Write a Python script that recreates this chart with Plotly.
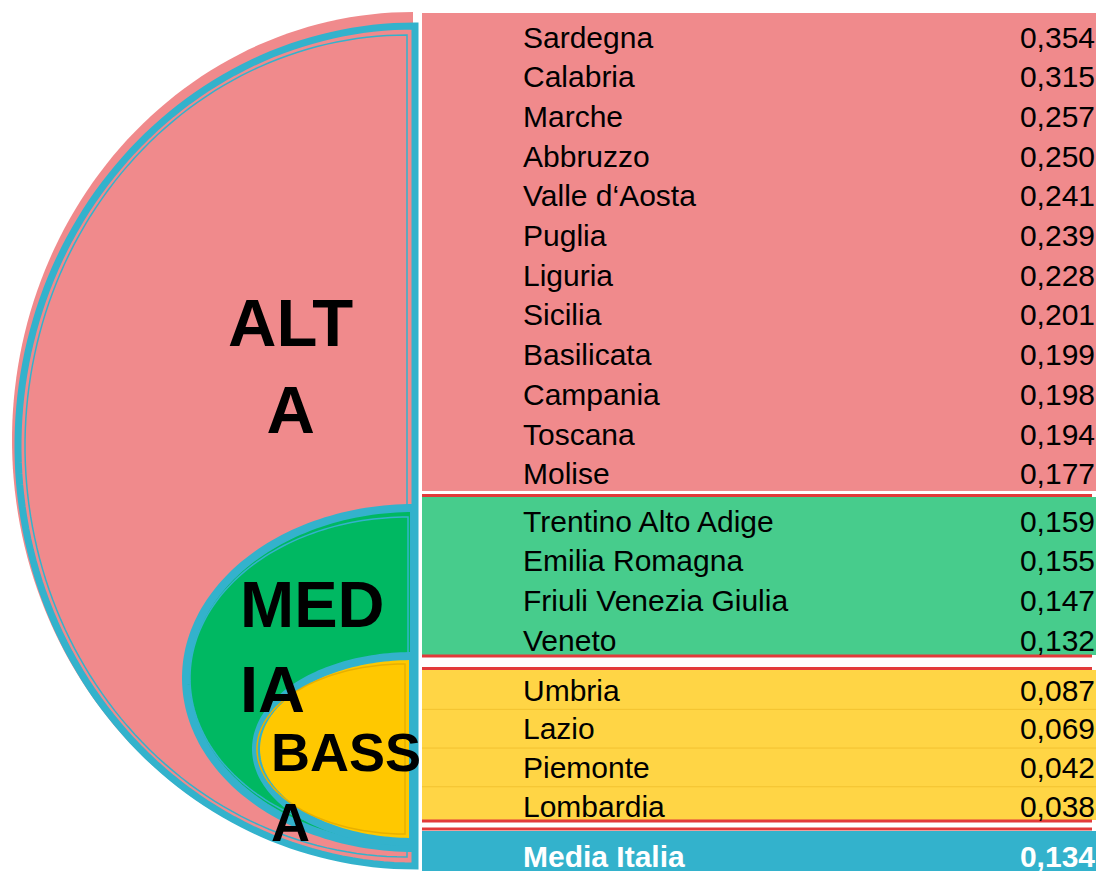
import numpy as np
import plotly.graph_objects as go

# ---------------- data ----------------
alta_regions = ["Sardegna", "Calabria", "Marche", "Abbruzzo", "Valle d‘Aosta", "Puglia",
                "Liguria", "Sicilia", "Basilicata", "Campania", "Toscana", "Molise"]
alta_values = [0.354, 0.315, 0.257, 0.250, 0.241, 0.239, 0.228, 0.201, 0.199, 0.198, 0.194, 0.177]

media_regions = ["Trentino Alto Adige", "Emilia Romagna", "Friuli Venezia Giulia", "Veneto"]
media_values = [0.159, 0.155, 0.147, 0.132]

bassa_regions = ["Umbria", "Lazio", "Piemonte", "Lombardia"]
bassa_values = [0.087, 0.069, 0.042, 0.038]

italia_label = "Media Italia"
italia_value = 0.134

group_labels = ["ALT<br>A", "MED<br>IA", "BASS<br>A"]

# ---------------- styles / geometry ----------------
W, H = 1100, 871
PINK = "#F08A8C"
GREEN_T = "#47CC8C"
GREEN_S = "#00B862"
YELLOW_T = "#FFD545"
YELLOW_S = "#FFC800"
BLUE = "#33B2CC"
RED = "#E23A3A"
FONT = "Liberation Sans, Arial, sans-serif"
TXT = 30

TX0, TX1 = 422, 1096      # table horizontal extent
NAME_X, VAL_X = 523, 1095

def fmt(v):
    return f"{v:.3f}".replace(".", ",")

def half_ellipse(cx, cy, rx, ry, xr, n=120):
    t = np.linspace(-np.pi / 2, np.pi / 2, n)
    xs = cx - rx * np.cos(t)
    ys = cy + ry * np.sin(t)
    pts = [(xr, ys[0])] + list(zip(xs, ys)) + [(xr, ys[-1])]
    return "M " + " L ".join(f"{x:.2f},{y:.2f}" for x, y in pts) + " Z"

shapes = []

def add_path(path, fill=None, line_color=None, line_width=0):
    shapes.append(dict(type="path", path=path, xref="x", yref="y", layer="below",
                       fillcolor=fill if fill else "rgba(0,0,0,0)",
                       line=dict(color=line_color if line_color else "rgba(0,0,0,0)",
                                 width=line_width)))

def add_rect(x0, y0, x1, y1, fill):
    shapes.append(dict(type="rect", x0=x0, y0=y0, x1=x1, y1=y1, xref="x", yref="y",
                       layer="below", fillcolor=fill, line=dict(width=0)))

def add_line(x0, y0, x1, y1, color, width):
    shapes.append(dict(type="line", x0=x0, y0=y0, x1=x1, y1=y1, xref="x", yref="y",
                       layer="below", line=dict(color=color, width=width)))

# ---- left nested half-ellipses ----
# ALTA
add_path(half_ellipse(413, 440, 401, 428, 413), fill=PINK)
add_path(half_ellipse(415, 446, 397, 420, 415), line_color=BLUE, line_width=7)
add_path(half_ellipse(407, 446, 382, 411, 407), line_color=BLUE, line_width=1.5)
# MEDIA
add_path(half_ellipse(414, 678, 228, 170, 414), fill=GREEN_S, line_color=BLUE, line_width=8)
add_path(half_ellipse(408, 678, 218, 161, 408), line_color=BLUE, line_width=1.5)
# BASSA
add_path(half_ellipse(413, 749, 157, 93, 413), fill=YELLOW_S, line_color=BLUE, line_width=8)
add_path(half_ellipse(405, 749, 148, 85, 405), line_color="#E8B000", line_width=1.5)

# ---- table blocks ----
blocks = [
    dict(names=alta_regions, vals=alta_values, top=13, bottom=491, first=40, step=39.7,
         fill=PINK, red_top=False, red_bottom=False, sep=None),
    dict(names=media_regions, vals=media_values, top=497, bottom=655, first=524, step=39.7,
         fill=GREEN_T, red_top=True, red_bottom=True, sep=None),
    dict(names=bassa_regions, vals=bassa_values, top=670, bottom=820, first=693, step=38.7,
         fill=YELLOW_T, red_top=True, red_bottom=True, sep="#F2C230"),
]

name_x, name_y, name_t = [], [], []
val_x, val_y, val_t = [], [], []
for b in blocks:
    add_rect(TX0, b["top"], TX1, b["bottom"], b["fill"])
    if b["red_top"]:
        add_line(TX0, b["top"] - 1.5, 1092, b["top"] - 1.5, RED, 3)
    if b["red_bottom"]:
        add_line(TX0, b["bottom"] + 1, 1092, b["bottom"] + 1, RED, 3)
    for i, (nm, v) in enumerate(zip(b["names"], b["vals"])):
        y = b["first"] + b["step"] * i
        name_x.append(NAME_X); name_y.append(y); name_t.append(nm)
        val_x.append(VAL_X); val_y.append(y); val_t.append(fmt(v))
        if b["sep"] and i > 0:
            add_line(TX0, y - 3 - b["step"] / 2, TX1, y - 3 - b["step"] / 2, b["sep"], 1)

# Media Italia row
add_rect(TX0, 831, TX1, H + 2, BLUE)
add_line(TX0, 829, 1092, 829, RED, 3)

fig = go.Figure()
fig.add_trace(go.Scatter(x=name_x, y=name_y, text=name_t, mode="text",
                         textposition="middle right", hoverinfo="skip",
                         textfont=dict(family=FONT, size=TXT, color="black")))
fig.add_trace(go.Scatter(x=val_x, y=val_y, text=val_t, mode="text",
                         textposition="middle left", hoverinfo="skip",
                         textfont=dict(family=FONT, size=TXT, color="black")))
fig.add_trace(go.Scatter(x=[NAME_X, VAL_X], y=[859, 859],
                         text=[f"<b>{italia_label}</b>", f"<b>{fmt(italia_value)}</b>"],
                         mode="text", textposition=["middle right", "middle left"],
                         hoverinfo="skip",
                         textfont=dict(family=FONT, size=TXT, color="white")))

annotations = [
    dict(x=290, y=366, text=f"<b>{group_labels[0]}</b>", xanchor="center", yanchor="middle",
         align="center", font=dict(family=FONT, size=67, color="black")),
    dict(x=238, y=647, text=f"<b>{group_labels[1]}</b>", xanchor="left", yanchor="middle",
         align="left", font=dict(family=FONT, size=65, color="black")),
    dict(x=269, y=787, text=f"<b>{group_labels[2]}</b>", xanchor="left", yanchor="middle",
         align="left", font=dict(family=FONT, size=54, color="black")),
]
for a in annotations:
    a.update(xref="x", yref="y", showarrow=False)

fig.update_layout(
    width=W, height=H, margin=dict(l=0, r=0, t=0, b=0),
    paper_bgcolor="white", plot_bgcolor="white", showlegend=False,
    xaxis=dict(range=[0, W], visible=False, fixedrange=True),
    yaxis=dict(range=[H, 0], visible=False, fixedrange=True),
    shapes=shapes, annotations=annotations,
)
fig.write_html("out.html", config={"displayModeBar": False},
               post_script="document.body.style.margin='0';document.body.style.overflow='hidden';")
